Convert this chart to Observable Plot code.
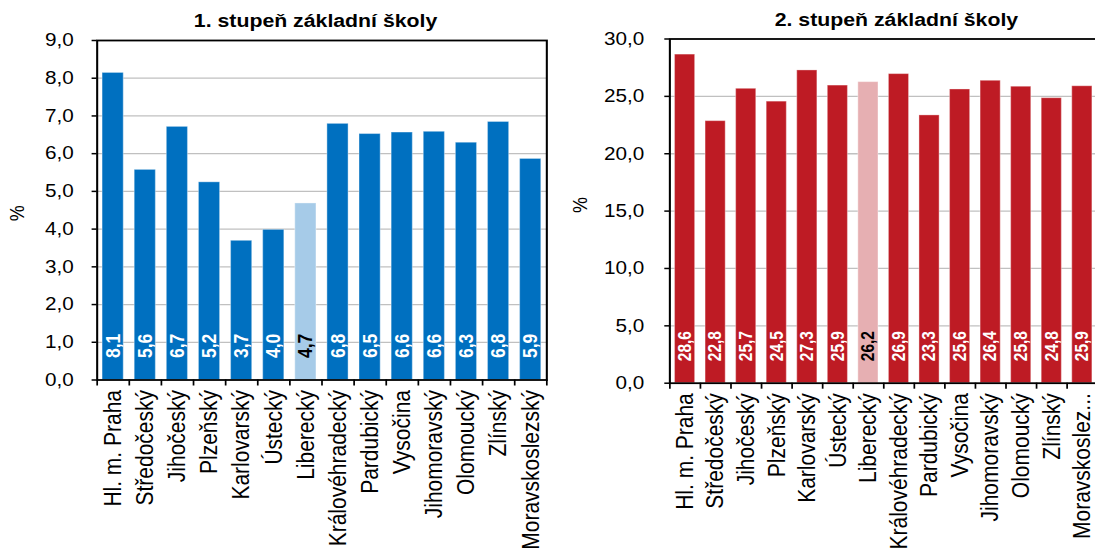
<!DOCTYPE html>
<html><head><meta charset="utf-8">
<script src="https://cdn.jsdelivr.net/npm/d3@7"></script>
<script src="https://cdn.jsdelivr.net/npm/@observablehq/plot@0.6"></script>
<style>
html,body{margin:0;padding:0;background:#fff;overflow:hidden;}
#outer{width:1095px;height:553px;overflow:hidden;position:relative;}
#wrap{position:absolute;left:0;top:0;width:1000px;height:553px;transform:scaleX(1.15);transform-origin:0 0;}
#wrap svg{position:absolute;top:0;overflow:visible;max-width:none !important;}
</style></head><body><div id="outer"><div id="wrap"></div></div>
<script>
const regions = ["Hl. m. Praha","Středočeský","Jihočeský","Plzeňský","Karlovarský","Ústecký","Liberecký","Královéhradecký","Pardubický","Vysočina","Jihomoravský","Olomoucký","Zlínský","Moravskoslezský"];
const labels1 = regions;
const labels2 = ["Hl. m. Praha","Středočeský","Jihočeský","Plzeňský","Karlovarský","Ústecký","Liberecký","Královéhradecký","Pardubický","Vysočina","Jihomoravský","Olomoucký","Zlínský","Moravskoslez..."];
const stupen1 = [8.14,5.57,6.71,5.24,3.69,3.98,4.68,6.79,6.52,6.56,6.58,6.29,6.84,5.86];
const stupen2 = [28.64,22.84,25.66,24.54,27.26,25.94,26.24,26.94,23.34,25.6,26.36,25.84,24.84,25.88];
const titles = ["1. stupeň základní školy","2. stupeň základní školy"];
const highlight = "Liberecký";
const yTicks1 = [0,1,2,3,4,5,6,7,8,9];
const yTicks2 = [0,5,10,15,20,25,30];
const axisTitle = "%";

const SX = 1.15;
const fmt = d => d.toFixed(1).replace(".", ",");
const FONT = "'Liberation Sans', Arial, sans-serif";

function panel(o) {
  const data = regions.map((r, i) => ({region: r, value: o.values[i]}));
  const bw = (o.width - o.marginLeft - o.marginRight) / regions.length;
  const last = regions[regions.length - 1];
  const svg = Plot.plot({
    width: o.width, height: 553,
    marginLeft: o.marginLeft, marginRight: o.marginRight, marginTop: o.marginTop, marginBottom: o.marginBottom,
    style: {fontFamily: FONT, fontSize: "18px", color: "#000", background: "transparent", overflow: "visible"},
    x: {domain: regions, paddingInner: 0.34, paddingOuter: 0.17, round: false, label: null},
    y: {domain: [0, o.max], label: null},
    marks: [
      Plot.gridY(o.ticks.filter(t => t > 0 && t < o.max), {stroke: "#c0c0c0", strokeOpacity: 1, strokeWidth: 1.3}),
      Plot.barY(data, {x: "region", y: "value", fill: d => d.region === highlight ? o.light : o.color, stroke: "#ffffff", strokeOpacity: 0.35, strokeWidth: 1}),
      Plot.text(data, {x: "region", y: 0, text: d => fmt(d.value), rotate: -90, textAnchor: "start", lineAnchor: "middle", dy: -22,
        fill: d => d.region === highlight ? "#000000" : "#ffffff", fontWeight: "bold", fontSize: o.valueSize}),
      Plot.axisY({ticks: o.ticks, tickFormat: fmt, tickSize: 5 / SX, tickPadding: o.yPad, fontSize: 18, strokeWidth: 1.5, label: null}),
      Plot.axisX({tickSize: 0, tickPadding: 10, tickRotate: -90, fontSize: 21, tickFormat: d => o.labels[regions.indexOf(d)], label: null}),
      Plot.axisX({tickSize: 6, dx: -bw / 2, strokeWidth: 1.5, tickFormat: () => "", label: null}),
      Plot.axisX({ticks: [last], tickSize: 6, dx: bw / 2, strokeWidth: 1.5, tickFormat: () => "", label: null}),
      Plot.frame({stroke: "#000", strokeWidth: 1.8}),
      Plot.text([o.title], {frameAnchor: "top", dy: -19, dx: o.titleDx, fontWeight: "bold", fontSize: 18.5, lineAnchor: "middle"}),
      Plot.text([axisTitle], {frameAnchor: "left", dx: o.labelDx, dy: o.labelDy, rotate: -90, fontSize: 18, lineAnchor: "middle"})
    ]
  });
  svg.style.left = o.left + "px";
  svg.style.maxWidth = "none";
  document.getElementById("wrap").appendChild(svg);
}

panel({values: stupen1, ticks: yTicks1, max: 9, title: titles[0], labels: labels1, color: "#0070c0", light: "#a6cbe8",
  left: 0, width: 478, marginLeft: 84, marginRight: 3, marginTop: 40, marginBottom: 173.5, valueSize: 17.5,
  yPad: 16, titleDx: -5.6, labelDx: -69.2, labelDy: 11});
panel({values: stupen2, ticks: yTicks2, max: 30, title: titles[1], labels: labels2, color: "#be1b24", light: "#e6afb2",
  left: 500, width: 454, marginLeft: 82, marginRight: 0, marginTop: 38.5, marginBottom: 170.3, valueSize: 15.5,
  yPad: 18, titleDx: 11, labelDx: -77.7, labelDy: 2});
</script></body></html>
